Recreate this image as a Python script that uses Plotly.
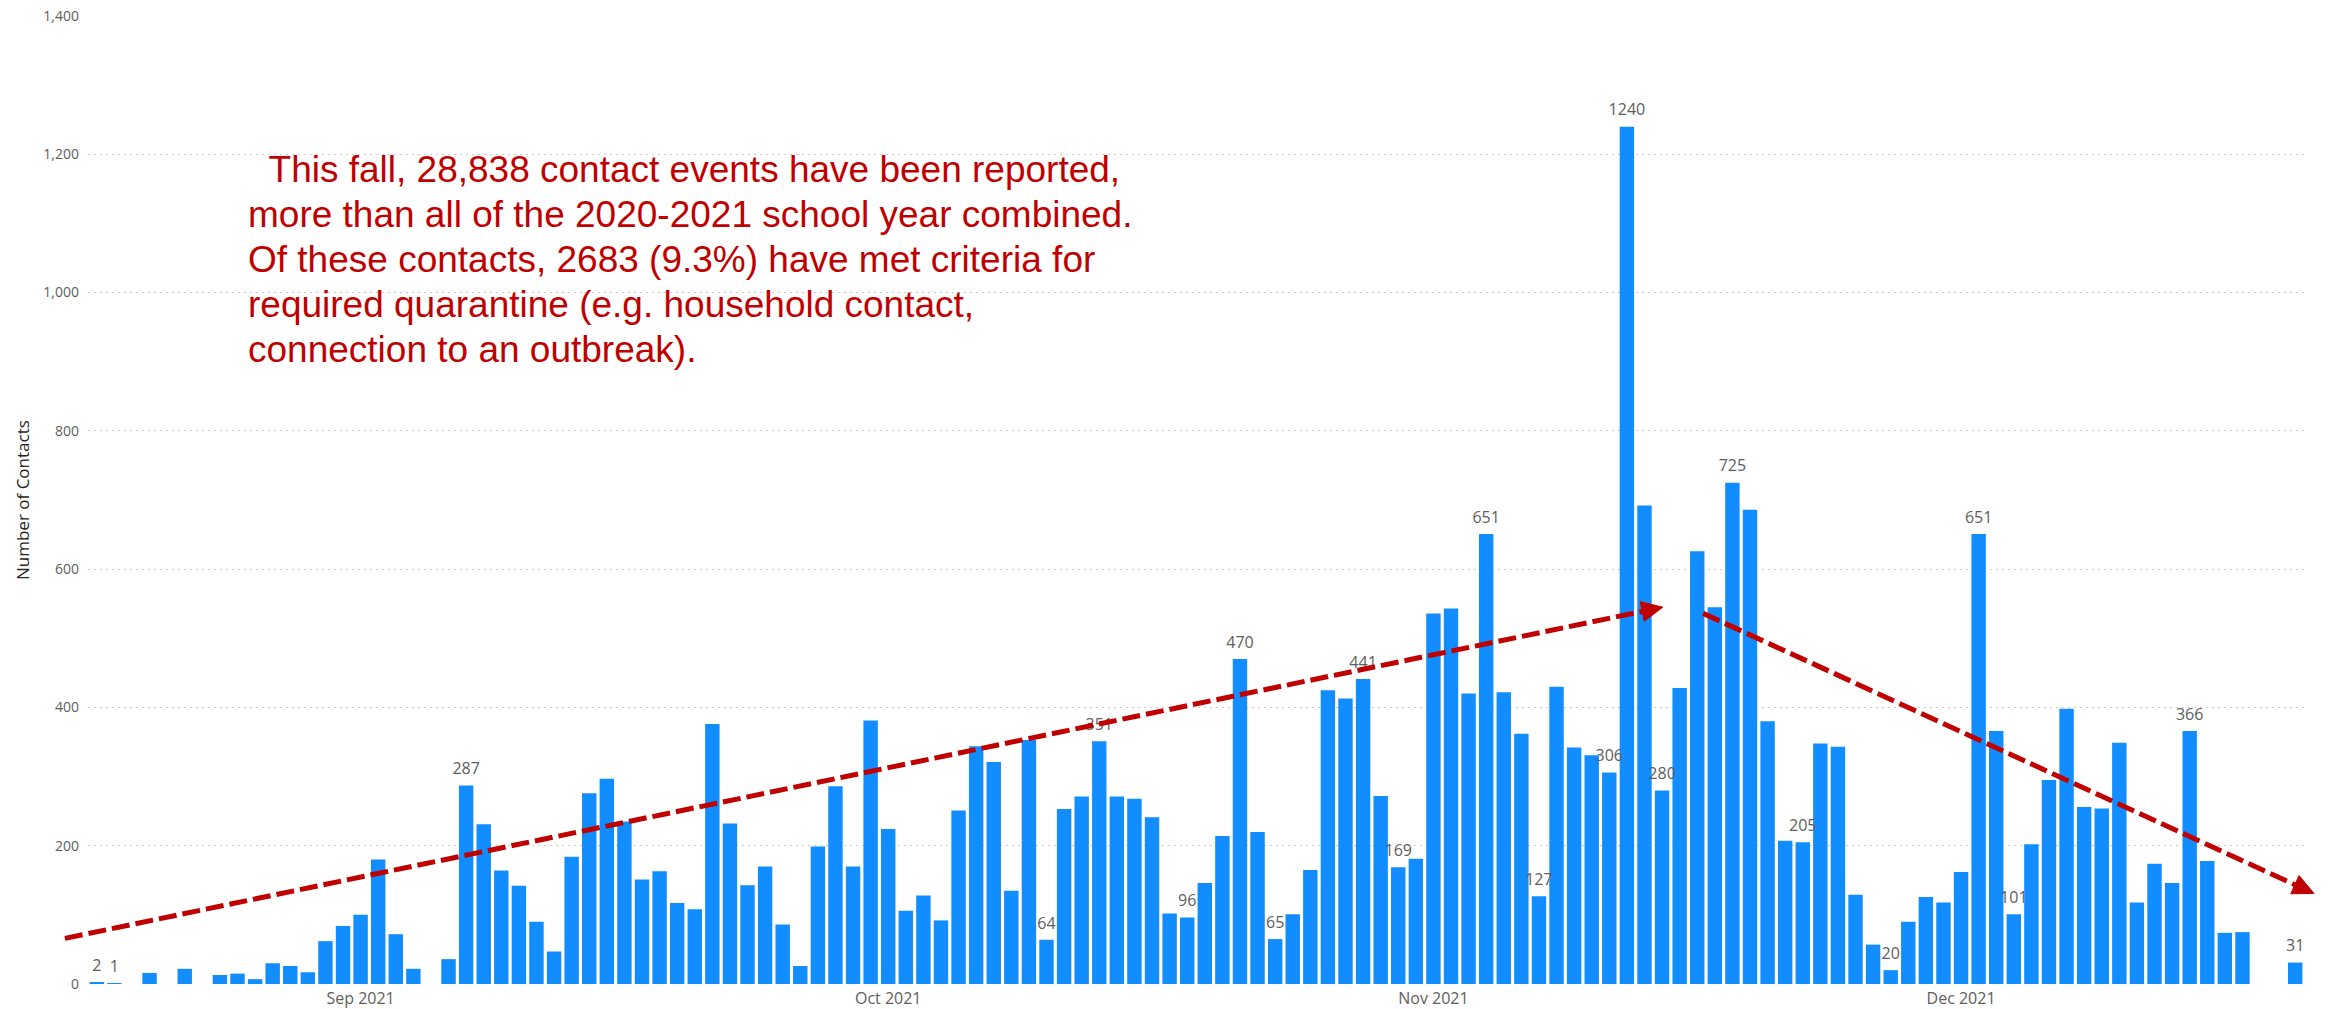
import pandas as pd
import plotly.graph_objects as go

# ---------------- data ----------------
START_DATE = "2021-08-17"
CONTACTS = [2, 1, None, 16, None, 22, None, 13, 15, 7,
            30, 26, 17, 62, 84, 100, 180, 72, 22, None,
            36, 287, 231, 164, 142, 90, 47, 184, 276, 297,
            235, 151, 163, 117, 108, 376, 232, 143, 170, 86,
            26, 199, 286, 170, 381, 224, 106, 128, 92, 251,
            344, 321, 135, 353, 64, 253, 271, 351, 271, 268,
            241, 102, 96, 146, 214, 470, 220, 65, 101, 165,
            425, 413, 441, 272, 169, 181, 536, 543, 420, 651,
            422, 362, 127, 430, 342, 331, 306, 1240, 692, 280,
            428, 626, 545, 725, 686, 380, 207, 205, 348, 343,
            129, 57, 20, 90, 126, 118, 162, 651, 366, 101,
            202, 295, 398, 256, 254, 349, 118, 174, 146, 366,
            178, 74, 75, None, None, 31]

LABEL_DATES = ["2021-08-17", "2021-08-18", "2021-09-07", "2021-10-10", "2021-10-13",
               "2021-10-18", "2021-10-21", "2021-10-23", "2021-10-28", "2021-10-30",
               "2021-11-04", "2021-11-07", "2021-11-11", "2021-11-12", "2021-11-14",
               "2021-11-18", "2021-11-22", "2021-11-27", "2021-12-02", "2021-12-04",
               "2021-12-14", "2021-12-20"]

TICK_DATES = ["2021-09-01", "2021-10-01", "2021-11-01", "2021-12-01"]
TICK_TEXT = ["Sep 2021", "Oct 2021", "Nov 2021", "Dec 2021"]

Y_TICKS = [0, 200, 400, 600, 800, 1000, 1200, 1400]

TEXT_LINES = ["\u00a0\u00a0This fall, 28,838 contact events have been reported,",
              "more than all of the 2020-2021 school year combined.",
              "Of these contacts, 2683 (9.3%) have met criteria for",
              "required quarantine (e.g. household contact,",
              "connection to an outbreak)."]

# trend arrows: (start date, start value, end date, end value)
TREND_ARROWS = [("2021-08-15 04:30", 66, "2021-11-14 01:00", 545),
                ("2021-11-16 08:00", 536, "2021-12-21 01:40", 131)]

Y_TITLE = "Number of Contacts"

# ---------------- layout geometry ----------------
WIDTH, HEIGHT = 2331, 1009
MARGIN = dict(l=88, r=27, t=16, b=25)
PW = WIDTH - MARGIN["l"] - MARGIN["r"]
PH = HEIGHT - MARGIN["t"] - MARGIN["b"]
X_RANGE = [pd.Timestamp("2021-08-16 12:00"), pd.Timestamp("2021-12-20 12:00")]
Y_RANGE = [0, 1400]

BAR_COLOR = "#118DFF"
RED = "#C00000"
GRAY = "#605E5C"
UI_FONT = "Segoe UI, Open Sans, sans-serif"

dates = pd.date_range(START_DATE, periods=len(CONTACTS), freq="D")
value_by_date = {d.strftime("%Y-%m-%d"): v for d, v in zip(dates, CONTACTS)}
label_vals = [value_by_date[d] for d in LABEL_DATES]


def to_paper(t, v):
    t = pd.Timestamp(t)
    xp = (t - X_RANGE[0]) / (X_RANGE[1] - X_RANGE[0])
    yp = (v - Y_RANGE[0]) / (Y_RANGE[1] - Y_RANGE[0])
    return xp, yp


def paper_to_px(xp, yp):
    return MARGIN["l"] + xp * PW, MARGIN["t"] + (1 - yp) * PH


def px_to_paper(px, py):
    return (px - MARGIN["l"]) / PW, 1 - (py - MARGIN["t"]) / PH


fig = go.Figure()
fig.add_trace(go.Bar(x=dates, y=CONTACTS, marker=dict(color=BAR_COLOR, line=dict(width=0)),
                     hoverinfo="x+y", showlegend=False))
fig.add_trace(go.Scatter(x=pd.to_datetime(LABEL_DATES), y=label_vals, mode="markers+text",
                         text=[str(v) for v in label_vals], textposition="top center",
                         marker=dict(size=10, color="rgba(0,0,0,0)"),
                         textfont=dict(family=UI_FONT, size=16, color=GRAY),
                         cliponaxis=False, hoverinfo="skip", showlegend=False))

shapes = []
for (t0, v0, t1, v1) in TREND_ARROWS:
    x0, y0 = paper_to_px(*to_paper(t0, v0))
    x1, y1 = paper_to_px(*to_paper(t1, v1))
    dx, dy = x1 - x0, y1 - y0
    n = (dx ** 2 + dy ** 2) ** 0.5
    ux, uy = dx / n, dy / n
    lx, ly = x1 - 14 * ux, y1 - 14 * uy
    a = px_to_paper(x0, y0)
    b = px_to_paper(lx, ly)
    shapes.append(dict(type="line", xref="paper", yref="paper", x0=a[0], y0=a[1], x1=b[0], y1=b[1],
                       line=dict(color=RED, width=5, dash="18px,6px"), layer="above"))
    bx, by = x1 - 21 * ux, y1 - 21 * uy
    nx, ny = -uy, ux
    pts = [(x1, y1), (bx + 10 * nx, by + 10 * ny), (bx - 10 * nx, by - 10 * ny)]
    pp = [px_to_paper(*p) for p in pts]
    path = "M{:.6f},{:.6f} L{:.6f},{:.6f} L{:.6f},{:.6f} Z".format(*[c for p in pp for c in p])
    shapes.append(dict(type="path", xref="paper", yref="paper", path=path,
                       fillcolor=RED, line=dict(color=RED, width=1), layer="above"))

annotations = []
TXT_SIZE = 37
for i, line in enumerate(TEXT_LINES):
    baseline = 181 + 45 * i
    top = baseline - 0.905 * TXT_SIZE - 1
    xp, yp = px_to_paper(246, top)
    annotations.append(dict(xref="paper", yref="paper", x=xp, y=yp, xanchor="left", yanchor="top",
                            text=line, showarrow=False, align="left",
                            font=dict(family="Liberation Sans, Arial, sans-serif", size=TXT_SIZE, color=RED)))

tx, _ = px_to_paper(22, 0)
annotations.append(dict(xref="paper", yref="paper", x=tx, y=0.5, xanchor="center", yanchor="middle",
                        text=Y_TITLE, textangle=-90, showarrow=False,
                        font=dict(family=UI_FONT, size=17, color="#252423")))

fig.update_layout(
    width=WIDTH, height=HEIGHT, margin=MARGIN,
    paper_bgcolor="white", plot_bgcolor="white",
    bargap=0.18, showlegend=False,
    shapes=shapes, annotations=annotations,
    xaxis=dict(type="date", range=X_RANGE, tickvals=pd.to_datetime(TICK_DATES), ticktext=TICK_TEXT,
               showgrid=False, zeroline=False, showline=False, ticks="",
               tickfont=dict(family=UI_FONT, size=16, color=GRAY), automargin=False,
               ticklabelstandoff=3),
    yaxis=dict(range=Y_RANGE, tickvals=Y_TICKS, tickformat=",", showgrid=True,
               gridcolor="#CFCDCB", griddash="1.5px,4.5px", gridwidth=1.3,
               zeroline=False, showline=False, ticks="",
               tickfont=dict(family=UI_FONT, size=14, color=GRAY), automargin=False,
               ticklabelstandoff=8),
)

fig.write_html("out.html", config={"displayModeBar": False},
               post_script="document.body.style.margin='0px';document.body.style.overflow='hidden';")
